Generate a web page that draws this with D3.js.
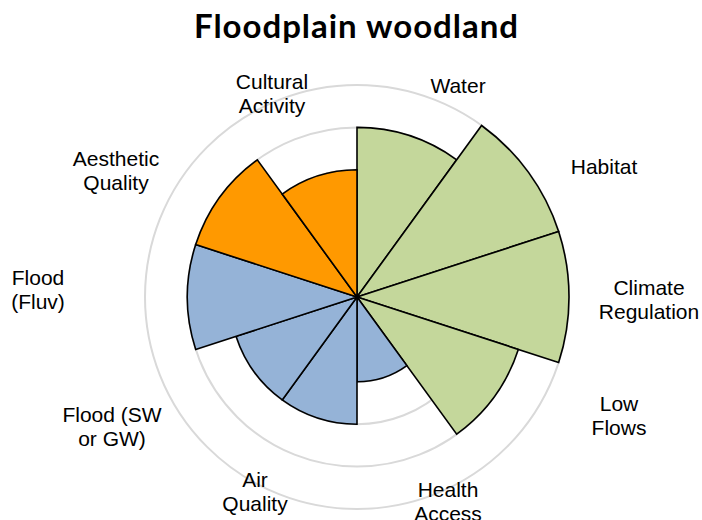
<!DOCTYPE html>
<html>
  <head>
    <meta charset="utf-8">
    <title>Floodplain woodland</title>
    <script src="https://d3js.org/d3.v7.min.js"></script>
    <style>
      body { margin: 0; background: #fff; }
      #chart { display: block; }
      .title { font-family: Lato, "Open Sans", sans-serif; font-weight: bold; font-size: 33px; fill: #000; }
      .label { font-family: "Liberation Sans", Arial, sans-serif; font-size: 21px; fill: #000; }
      .grid { fill: none; stroke: #d9d9d9; stroke-width: 2; }
      .sector { stroke: #000; stroke-width: 1.6; stroke-linejoin: miter; }
    </style>
  </head>
  <body>
    <svg id="chart" width="702" height="520"></svg>
    <script>
      // data: clockwise from 12 o'clock
      var categories = ["Water", "Habitat", "Climate Regulation", "Low Flows", "Health Access",
        "Air Quality", "Flood (SW or GW)", "Flood (Fluv)", "Aesthetic Quality", "Cultural Activity"];
      var labelLines = [["Water"], ["Habitat"], ["Climate", "Regulation"], ["Low", "Flows"], ["Health", "Access"],
        ["Air", "Quality"], ["Flood (SW", "or GW)"], ["Flood", "(Fluv)"], ["Aesthetic", "Quality"], ["Cultural", "Activity"]];
      var groups = ["green", "green", "green", "green", "blue", "blue", "blue", "blue", "orange", "orange"];
      var scores = [4, 5, 5, 4, 2, 3, 3, 4, 4, 3];
      var maxScore = 5;

      // layout
      var cx = 357, cy = 297, outerR = 212;
      var colour = { green: "#c4d79b", blue: "#95b3d7", orange: "#ff9900" };
      // first-line baseline of each category label, relative to the centre
      var labelOffset = [[101, -204], [247, -123], [292, -2], [262, 114], [91, 200],
        [-102, 190], [-245, 125], [-319, -12], [-241, -131], [-85, -208]];
      var lineHeight = 23.5;

      var svg = d3.select("#chart");

      svg.append("text")
        .attr("class", "title")
        .attr("x", 356)
        .attr("y", 38)
        .attr("text-anchor", "middle")
        .attr("textLength", 324)
        .attr("lengthAdjust", "spacing")
        .text("Floodplain woodland");

      var r = d3.scaleLinear()
        .domain([0, maxScore])
        .range([0, outerR]);
      var angle = d3.scaleBand()
        .domain(categories)
        .range([0, 2 * Math.PI]);

      var plot = svg.append("g")
        .attr("transform", "translate(" + cx + "," + cy + ")");

      // gridline rings
      plot.selectAll(".grid")
        .data(r.ticks(maxScore).filter(function(d) { return d > 0; }))
        .enter().append("circle")
          .attr("class", "grid")
          .attr("r", function(d) { return r(d); });

      var arc = d3.arc()
        .innerRadius(0)
        .outerRadius(function(d) { return r(d.score); })
        .startAngle(function(d) { return angle(d.name); })
        .endAngle(function(d) { return angle(d.name) + angle.bandwidth(); });

      var sectors = categories.map(function(c, i) {
        return { name: c, score: scores[i], group: groups[i] };
      });

      plot.selectAll(".sector")
        .data(sectors)
        .enter().append("path")
          .attr("class", "sector")
          .attr("d", arc)
          .attr("fill", function(d) { return colour[d.group]; });

      // category labels
      var labels = plot.selectAll(".label")
        .data(categories)
        .enter().append("text")
          .attr("class", "label")
          .attr("text-anchor", "middle")
          .attr("transform", function(d, i) {
            return "translate(" + labelOffset[i][0] + "," + labelOffset[i][1] + ")";
          });
      labels.selectAll("tspan")
        .data(function(d, i) { return labelLines[i]; })
        .enter().append("tspan")
          .attr("x", 0)
          .attr("y", function(d, j) { return j * lineHeight; })
          .text(function(d) { return d; });
    </script>
  </body>
</html>
